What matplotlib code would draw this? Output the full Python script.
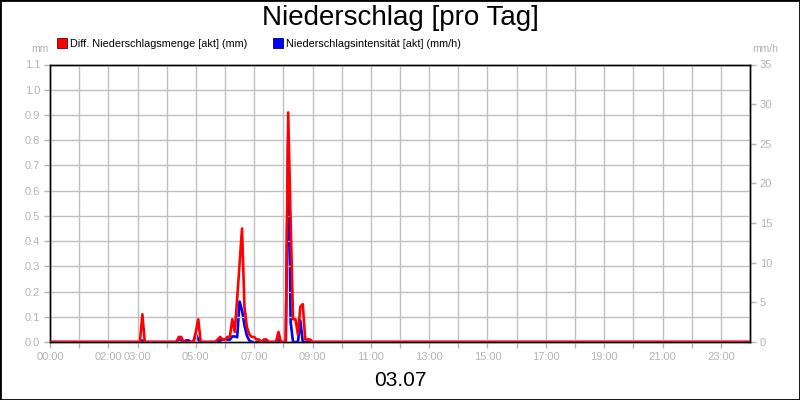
import numpy as np
import matplotlib
matplotlib.use("Agg")
import matplotlib.pyplot as plt
from matplotlib.lines import Line2D
from matplotlib.patches import Rectangle

plt.rcParams['font.family'] = ['Liberation Sans', 'DejaVu Sans']

# Diff. Niederschlagsmenge [akt] (mm), nonzero 5-minute values
rain_times = ["03:10", "04:25", "04:30", "05:00", "05:05", "05:45", "05:50", "05:55",
              "06:00", "06:05", "06:10", "06:15", "06:20", "06:25", "06:30", "06:35",
              "06:40", "06:45", "06:50", "06:55", "07:00", "07:05", "07:10", "07:20",
              "07:25", "07:50", "08:10", "08:15", "08:20", "08:25", "08:30", "08:35",
              "08:40", "08:45", "08:50", "08:55"]
rain_mm = [0.11, 0.02, 0.02, 0.04, 0.09, 0.01, 0.02, 0.01,
           0.01, 0.02, 0.02, 0.09, 0.04, 0.17, 0.31, 0.45,
           0.14, 0.06, 0.03, 0.02, 0.02, 0.01, 0.01, 0.01,
           0.01, 0.04, 0.91, 0.48, 0.09, 0.09, 0.03, 0.14,
           0.15, 0.01, 0.01, 0.01]

# Niederschlagsintensität [akt] (mm/h), nonzero 5-minute values
int_times = ["03:10", "04:25", "04:30", "04:40", "04:45", "05:00", "05:05", "05:50",
             "05:55", "06:00", "06:05", "06:10", "06:15", "06:20", "06:25", "06:30",
             "06:35", "06:40", "06:45", "06:50", "07:50", "08:10", "08:15", "08:35"]
int_mmh = [0.2, 0.4, 0.2, 0.2, 0.2, 1.0, 0.3, 0.2,
           0.3, 0.3, 0.3, 0.3, 0.7, 0.7, 0.6, 5.1,
           4.0, 2.1, 0.8, 0.2, 0.3, 26.0, 2.5, 2.7]

tick_labels = ["00:00", "", "02:00", "03:00", "", "05:00", "", "07:00", "", "09:00",
               "", "11:00", "", "13:00", "", "15:00", "", "17:00", "", "19:00",
               "", "21:00", "", "23:00"]

date_label = "03.07"


def to_hours(t):
    h, m = t.split(":")
    return int(h) + int(m) / 60


def series(times, values):
    # full day at 5-minute steps, zero where nothing was recorded
    x = np.arange(0, 24 * 12 + 1) / 12
    y = np.zeros_like(x)
    for t, v in zip(times, values):
        y[int(round(to_hours(t) * 12))] = v
    return x, y


grey = "#b4b4b4"
fig = plt.figure(figsize=(8, 4), dpi=100)
ax = fig.add_axes([50 / 800, 1 - 342 / 400, 700 / 800, 277.5 / 400])
ax2 = ax.twinx()

xr, yr = series(rain_times, rain_mm)
xi, yi = series(int_times, int_mmh)
ax2.plot(xi, yi, color="#0000ff", lw=1.9, zorder=2)
ax.plot(xr, yr, color="#ff0000", lw=1.9, zorder=3)
ax.set_zorder(ax2.get_zorder() + 1)
ax.patch.set_visible(False)

ax.set_xlim(0, 24)
ax.set_ylim(0, 1.1)
ax2.set_ylim(0, 35)
ax.set_xticks(range(24))
ax.set_xticklabels(tick_labels)
ax.set_yticks(np.arange(0, 1.11, 0.1))
ax.set_yticklabels([f"{v:.1f}" for v in np.arange(0, 1.11, 0.1)])
ax2.set_yticks(range(0, 36, 5))
ax.grid(True, color="#c0c0c0", lw=1)

for a in (ax, ax2):
    a.tick_params(colors=grey, labelsize=8, length=4, width=1, pad=3)
    for s in a.spines.values():
        s.set_color("black")
        s.set_linewidth(1)

fig.text(40 / 800, 1 - 49 / 400, "mm", color=grey, fontsize=7.5, ha="center", va="center")
fig.text(765 / 800, 1 - 49 / 400, "mm/h", color=grey, fontsize=7.5, ha="center", va="center")

handles = [Line2D([], [], ls="none", marker="s", ms=7, mfc="#ff0000", mec="#600000", mew=0.6),
           Line2D([], [], ls="none", marker="s", ms=7, mfc="#0000ff", mec="#000060", mew=0.6)]
fig.legend(handles, ["Diff. Niederschlagsmenge [akt] (mm)", "Niederschlagsintensität [akt] (mm/h)"],
           loc="center left", bbox_to_anchor=(58 / 800, 1 - 44 / 400), ncol=2, frameon=False,
           fontsize=7.8, handlelength=0.8, handletextpad=0.35, columnspacing=2.4,
           borderpad=0, borderaxespad=0)

fig.text(0.5, 1 - 18 / 400, "Niederschlag [pro Tag]", fontsize=20, ha="center", va="center")
fig.text(0.5, 1 - 380 / 400, date_label, fontsize=15, ha="center", va="center")

fig.add_artist(Rectangle((0, 0), 1, 1, transform=fig.transFigure, fill=False,
                         edgecolor="black", lw=2))

fig.savefig("out.png", dpi=100)
